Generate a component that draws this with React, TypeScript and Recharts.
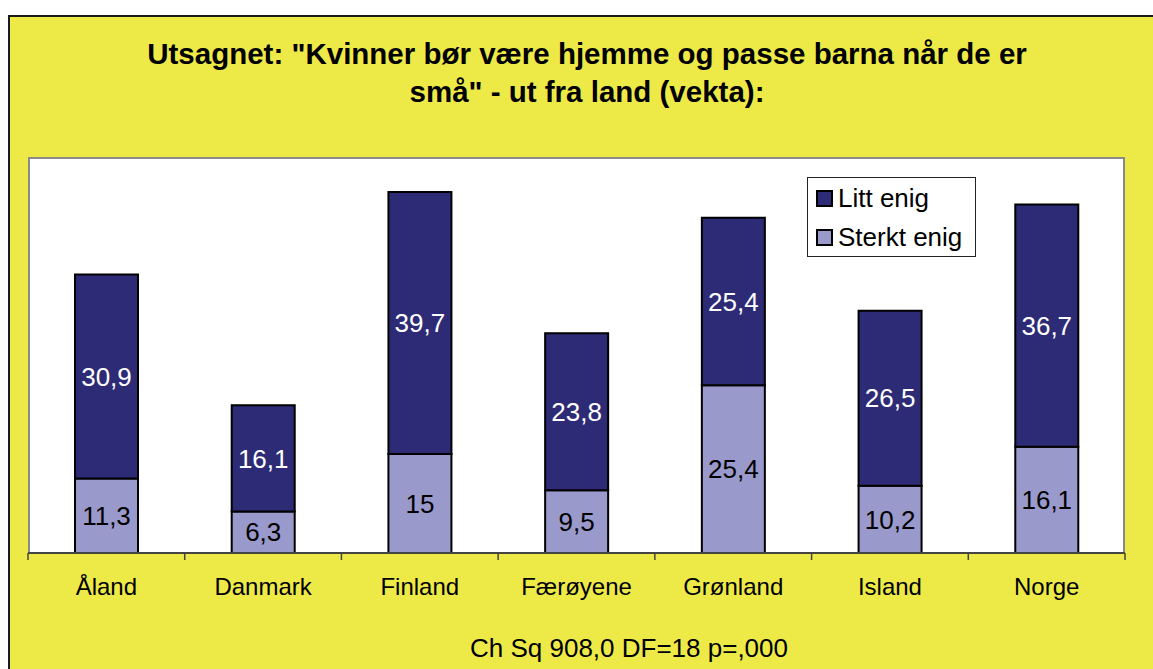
import React from "react";
import { BarChart, Bar, XAxis, YAxis, Legend, LabelList } from "recharts";

const countries = ["Åland", "Danmark", "Finland", "Færøyene", "Grønland", "Island", "Norge"];
const sterktEnig = [11.3, 6.3, 15, 9.5, 25.4, 10.2, 16.1];
const littEnig = [30.9, 16.1, 39.7, 23.8, 25.4, 26.5, 36.7];
const legendOrder = ["Litt enig", "Sterkt enig"];

const DARK = "#2E2B76";
const LIGHT = "#9A99CB";
const YELLOW = "#EDEA48";
const FONT = "'Liberation Sans', Arial, sans-serif";

const data = countries.map((name, i) => ({
  name,
  sterkt: sterktEnig[i],
  litt: littEnig[i],
}));

const fmt = (v: any) => String(v).replace(".", ",");

// tick marks sit on the category boundaries, like Excel
const CategoryTick = (props: any) => {
  const { x, y, payload, visibleTicksCount } = props;
  const half = payload.offset ?? 1097 / 14;
  const last = payload.index === (visibleTicksCount ?? countries.length) - 1;
  return (
    <g>
      <line x1={x - half} x2={x - half} y1={y} y2={y + 7} stroke="#444" strokeWidth={1.5} />
      {last && <line x1={x + half} x2={x + half} y1={y} y2={y + 7} stroke="#444" strokeWidth={1.5} />}
      <text x={x} y={y + 42} textAnchor="middle" fontSize={24} fontFamily={FONT} fill="#000">
        {payload.value}
      </text>
    </g>
  );
};

const LegendBox = (props: any) => {
  const items = [...(props.payload || [])].sort(
    (a: any, b: any) => legendOrder.indexOf(a.value) - legendOrder.indexOf(b.value)
  );
  return (
    <div
      style={{
        width: 169,
        height: 80,
        boxSizing: "border-box",
        border: "1px solid #222",
        background: "#fff",
        paddingTop: 1,
      }}
    >
      {items.map((item: any) => (
        <div key={item.value} style={{ display: "flex", alignItems: "center", height: 39, paddingLeft: 8 }}>
          <span
            style={{
              width: 17,
              height: 17,
              boxSizing: "border-box",
              border: "2px solid #000",
              background: item.color,
              marginRight: 5,
            }}
          />
          <span style={{ fontSize: 26, fontFamily: FONT, color: "#000" }}>{item.value}</span>
        </div>
      ))}
    </div>
  );
};

export default function App() {
  return (
    <div style={{ position: "fixed", left: 0, top: 0, width: 1153, height: 669, overflow: "hidden", background: "#fff" }}>
      <div
        style={{
          position: "absolute",
          left: 8,
          top: 15,
          width: 1200,
          height: 700,
          background: YELLOW,
          border: "2px solid #1a1a1a",
        }}
      />
      <div
        style={{
          position: "absolute",
          left: 87,
          top: 35,
          width: 1000,
          textAlign: "center",
          whiteSpace: "nowrap",
          fontFamily: FONT,
          fontWeight: "bold",
          fontSize: 29.5,
          lineHeight: "38px",
          color: "#000",
        }}
      >
        Utsagnet: "Kvinner bør være hjemme og passe barna når de er
        <br />
        små" - ut fra land (vekta):
      </div>
      <div
        style={{
          position: "absolute",
          left: 28,
          top: 157,
          width: 1097,
          height: 396,
          boxSizing: "border-box",
          background: "#fff",
          borderLeft: "2px solid #8a8a8a",
          borderTop: "2px solid #8a8a8a",
          borderRight: "2px solid #8a8a8a",
        }}
      />
      <div style={{ position: "absolute", left: 0, top: 0 }}>
        <BarChart
          width={1153}
          height={669}
          data={data}
          margin={{ top: 157, right: 28, bottom: 56, left: 28 }}
        >
          <XAxis
            dataKey="name"
            height={60}
            tickSize={0}
            tickMargin={0}
            tickLine={false}
            axisLine={{ stroke: "#444", strokeWidth: 2 }}
            tick={<CategoryTick />}
            interval={0}
          />
          <YAxis hide width={0} domain={[0, 60]} />
          <Legend
            layout="vertical"
            align="center"
            verticalAlign="middle"
            content={<LegendBox />}
            wrapperStyle={{ left: 807, top: 177, width: 169, height: 80 }}
          />
          <Bar
            dataKey="sterkt"
            name="Sterkt enig"
            stackId="a"
            fill={LIGHT}
            stroke="#000"
            strokeWidth={2}
            barSize={63}
            isAnimationActive={false}
          >
            <LabelList dataKey="sterkt" position="center" fill="#000" fontSize={26} fontFamily={FONT} formatter={fmt} />
          </Bar>
          <Bar
            dataKey="litt"
            name="Litt enig"
            stackId="a"
            fill={DARK}
            stroke="#000"
            strokeWidth={2}
            barSize={63}
            isAnimationActive={false}
          >
            <LabelList dataKey="litt" position="center" fill="#fff" fontSize={26} fontFamily={FONT} formatter={fmt} />
          </Bar>
        </BarChart>
      </div>
      <div
        style={{
          position: "absolute",
          left: 229,
          top: 633,
          width: 800,
          textAlign: "center",
          fontFamily: FONT,
          fontSize: 26,
          lineHeight: "30px",
          color: "#000",
        }}
      >
        Ch Sq 908,0 DF=18 p=,000
      </div>
    </div>
  );
}
